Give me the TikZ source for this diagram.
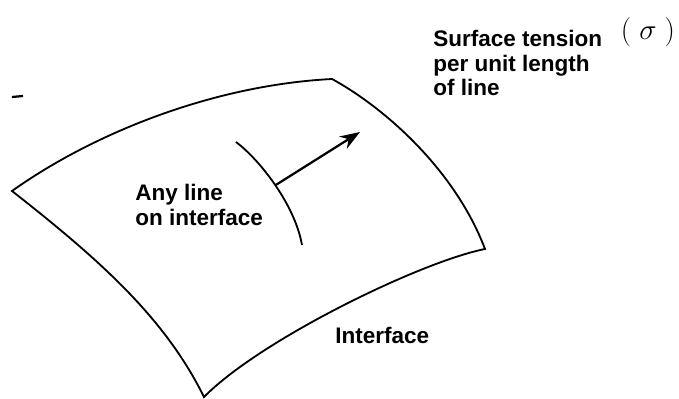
\documentclass[tikz,border=0pt]{standalone}
\usepackage{amsmath,amssymb}
\usepackage{fontspec}
\setmainfont{Liberation Sans}
\usetikzlibrary{arrows.meta}

\begin{document}
\begin{tikzpicture}[x=0.025cm, y=-0.025cm, every node/.style={inner sep=0pt, align=left, anchor=north west}, >={Stealth[length=5mm, width=3.6mm]}, txt/.style={font=\fontsize{16}{15}\selectfont\bfseries}, edge/.style={line width=1.3pt, line join=miter}]
	\useasboundingbox (0,0) rectangle (679,399);
	% corners of the interface
	\coordinate (L) at (12,191);
	\coordinate (T) at (332,79);
	\coordinate (R) at (485,249);
	\coordinate (B) at (204,397);
	\draw[edge] (L) .. controls (95,132) and (215,85) .. (T) .. controls (385,108) and (455,170) .. (R) .. controls (420,262) and (260,340) .. (B) .. controls (165,318) and (100,260) .. cycle;
	% line on the interface and the force on it
	\draw[edge] (236,142) .. controls (260,160) and (295,205) .. (302,245) coordinate[pos=0.5] (foot);
	\coordinate (tip) at (360,132);
	\draw[->, line width=1.6pt] (foot) -- (tip);
	\draw[line width=1.6pt] (12,97) -- (23,96);
	\node[txt] (tension) at (433,30) {Surface tension\\[2.5pt]per unit length\\[2.5pt]of line};
	\node[anchor=center, font=\fontsize{22}{22}\selectfont] (sigma) at (648,32) {$(\;\sigma\;)$};
	\node[txt] (anyline) at (135,184) {Any line\\[3pt]on interface};
	\node[txt] (iface) at (335,327) {Interface};
\end{tikzpicture}
\end{document}
